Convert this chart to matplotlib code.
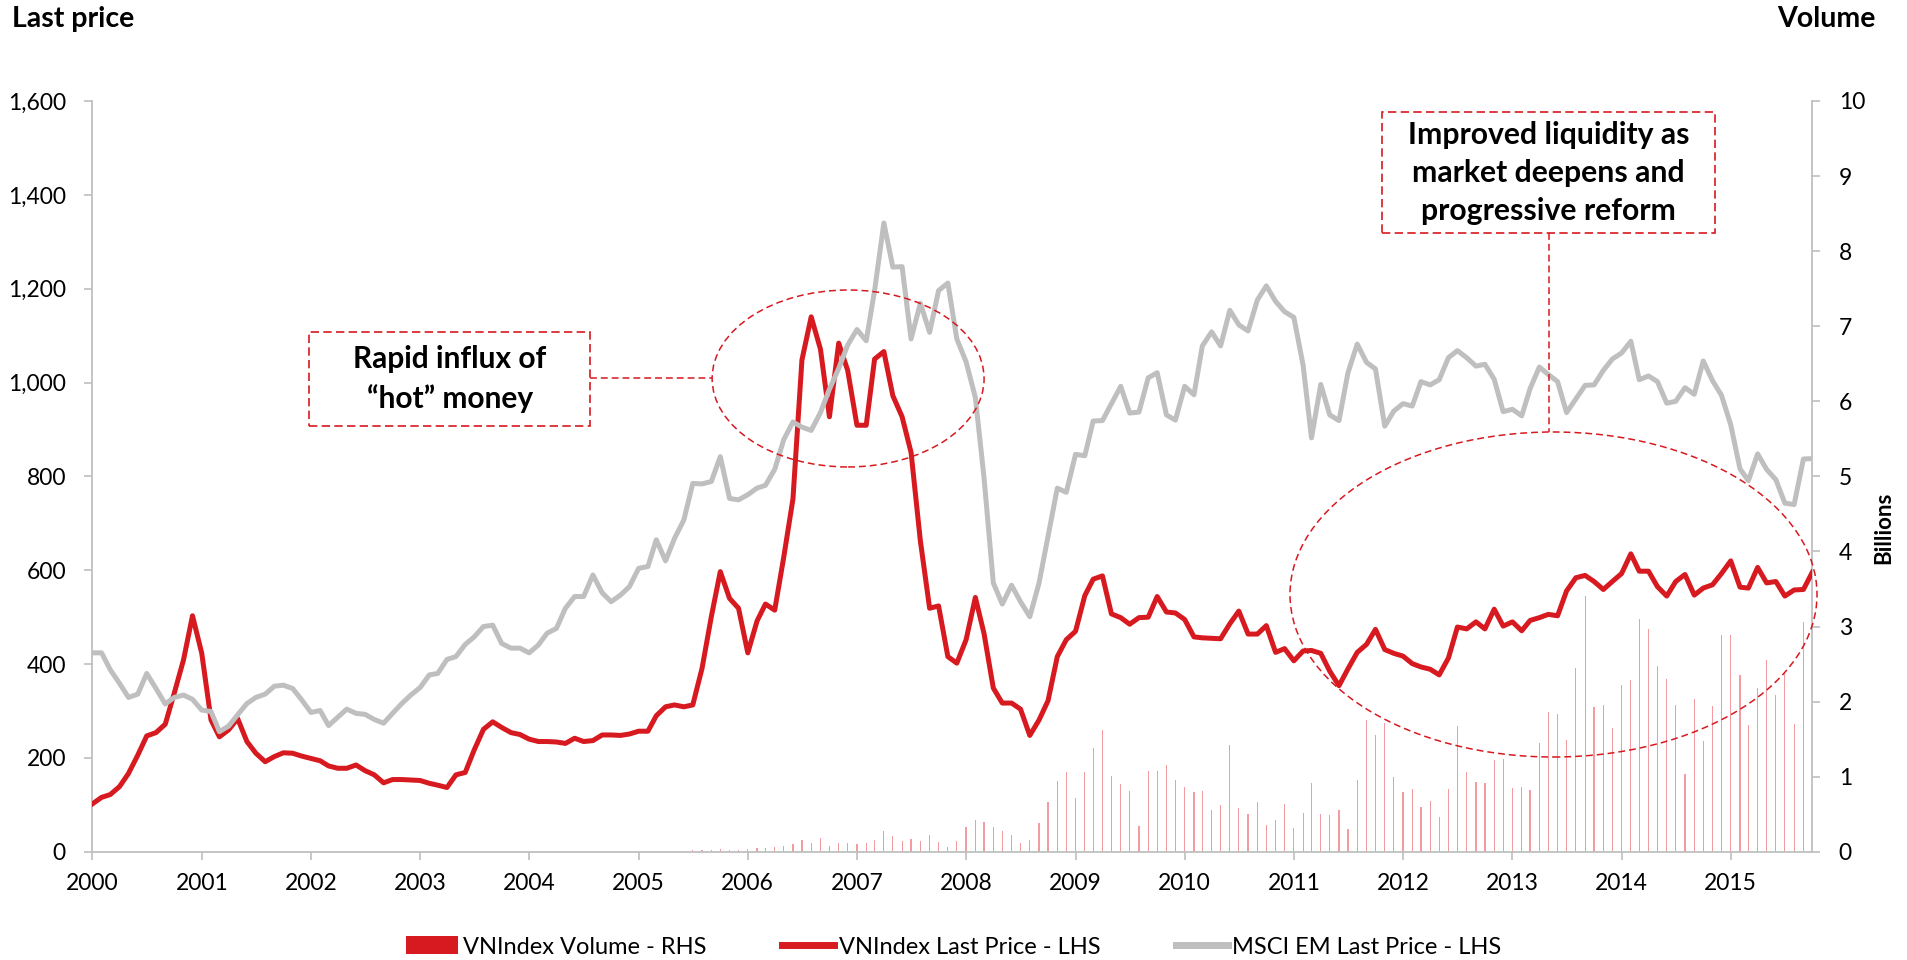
import numpy as np
import pandas as pd
import matplotlib
matplotlib.use("Agg")
import matplotlib.pyplot as plt
import matplotlib.dates as mdates
from matplotlib.patches import Ellipse, Rectangle, Patch
from matplotlib.lines import Line2D
from matplotlib.ticker import FuncFormatter

plt.rcParams['font.family'] = ['Lato', 'DejaVu Sans']

# ---------------- data (monthly, Jan 2000 - Oct 2015) ----------------
dates = pd.date_range('2000-01-01', periods=190, freq='MS')

vnindex_last = [
    102, 116, 122, 139, 167, 206, 247, 254, 272, 338, 409, 503,      # 2000
    423, 281, 245, 260, 284, 235, 210, 192, 203, 211, 210, 204,      # 2001
    199, 194, 183, 178, 178, 185, 173, 164, 147, 154, 154, 153,      # 2002
    152, 146, 142, 137, 164, 169, 217, 261, 277, 265, 254, 250,      # 2003
    240, 235, 235, 234, 231, 242, 235, 237, 249, 249, 248, 251,      # 2004
    257, 257, 290, 309, 313, 309, 313, 391, 501, 597, 540, 519,      # 2005
    424, 492, 528, 515, 627, 752, 1048, 1140, 1071, 927, 1084, 1026, # 2006
    909, 909, 1050, 1066, 972, 927, 851, 663, 519, 524, 416, 402,    # 2007
    452, 542, 465, 349, 317, 317, 304, 248, 281, 322, 416, 452,      # 2008
    470, 546, 581, 588, 507, 499, 485, 499, 500, 544, 511, 509,      # 2009
    495, 458, 456, 455, 454, 486, 513, 464, 464, 482, 425, 433,      # 2010
    407, 428, 429, 423, 385, 354, 390, 425, 442, 474, 431, 423,      # 2011
    417, 401, 394, 389, 377, 413, 479, 475, 490, 475, 517, 481,      # 2012
    490, 471, 493, 499, 506, 503, 556, 584, 589, 576, 559, 576,      # 2013
    593, 635, 598, 598, 565, 545, 576, 591, 547, 562, 569, 593,      # 2014
    620, 564, 562, 606, 573, 576, 545, 558, 559, 596,                # 2015
]

msci_em_last = [
    424, 424, 388, 359, 329, 336, 380, 348, 315, 329, 334, 325,      # 2000
    302, 299, 256, 268, 292, 316, 329, 336, 353, 355, 348, 324,      # 2001
    297, 301, 269, 287, 304, 295, 293, 282, 274, 295, 316, 334,      # 2002
    350, 377, 380, 410, 416, 442, 458, 480, 483, 444, 434, 434,      # 2003
    424, 441, 466, 476, 519, 544, 544, 590, 552, 533, 547, 565,      # 2004
    604, 608, 665, 620, 668, 707, 785, 784, 789, 842, 753, 750,      # 2005
    761, 775, 781, 815, 878, 916, 905, 898, 936, 986, 1030, 1080,    # 2006
    1113, 1089, 1196, 1340, 1246, 1247, 1093, 1169, 1107, 1196, 1212, 1093,  # 2007
    1044, 968, 797, 573, 528, 568, 533, 501, 573, 672, 775, 766,     # 2008
    847, 844, 918, 919, 955, 992, 935, 937, 1010, 1021, 931, 920,    # 2009
    992, 974, 1078, 1108, 1078, 1154, 1123, 1110, 1176, 1206, 1173, 1151,  # 2010
    1139, 1037, 882, 996, 931, 919, 1021, 1082, 1043, 1029, 907, 939,      # 2011
    955, 950, 1002, 995, 1006, 1053, 1068, 1053, 1035, 1039, 1007, 938,    # 2012
    943, 929, 987, 1033, 1017, 1002, 936, 965, 994, 995, 1026, 1050,       # 2013
    1063, 1088, 1006, 1014, 1002, 956, 960, 989, 975, 1046, 1004, 973,     # 2014
    910, 816, 791, 848, 815, 793, 743, 740, 837, 838,                      # 2015
]

nan = np.nan
vnindex_volume_bn = [nan] * 66 + [
    0.02, 0.03, 0.03, 0.04, 0.03, 0.03,                                    # Jul-Dec 2005
    0.04, 0.05, 0.05, 0.06, 0.08, 0.11, 0.16, 0.12, 0.19, 0.08, 0.12, 0.12,  # 2006
    0.11, 0.12, 0.16, 0.28, 0.21, 0.14, 0.17, 0.15, 0.22, 0.13, 0.06, 0.15,  # 2007
    0.33, 0.43, 0.40, 0.33, 0.28, 0.23, 0.12, 0.16, 0.38, 0.67, 0.94, 1.06,  # 2008
    0.72, 1.06, 1.38, 1.62, 1.01, 0.90, 0.81, 0.35, 1.08, 1.08, 1.15, 0.96,  # 2009
    0.86, 0.80, 0.81, 0.56, 0.62, 1.42, 0.59, 0.50, 0.67, 0.36, 0.43, 0.64,  # 2010
    0.32, 0.52, 0.91, 0.51, 0.49, 0.56, 0.31, 0.95, 1.75, 1.55, 1.72, 1.00,  # 2011
    0.80, 0.84, 0.60, 0.68, 0.47, 0.84, 1.68, 1.06, 0.93, 0.91, 1.22, 1.23,  # 2012
    0.85, 0.86, 0.82, 1.45, 1.86, 1.83, 1.49, 2.45, 3.41, 1.93, 1.95, 1.65,  # 2013
    2.22, 2.29, 3.10, 2.97, 2.48, 2.30, 1.96, 1.03, 2.03, 1.47, 1.94, 2.89,  # 2014
    2.89, 2.36, 1.69, 2.18, 2.56, 2.09, 2.38, 1.70, 3.06, 2.60,              # 2015
]

legend_labels = ['VNIndex Volume - RHS', 'VNIndex Last Price - LHS', 'MSCI EM Last Price - LHS']
left_ticks = list(range(0, 1601, 200))
right_ticks = list(range(0, 11))

# ---------------- styling ----------------
RED = '#D71920'
GREY = '#BFBFBF'
BAR = '#F29BA1'
AX_GREY = '#BFBFBF'

fig = plt.figure(figsize=(19.08, 9.6), dpi=100)
ax = fig.add_axes([0.04838, 0.1127, 0.9015, 0.7821])
ax2 = ax.twinx()
ax.set_zorder(ax2.get_zorder() + 1)
ax.patch.set_visible(False)

# volume bars (right axis)
ax2.bar(dates, vnindex_volume_bn, width=4, color=BAR, linewidth=0, align='center')

# price lines (left axis)
ax.plot(dates, vnindex_last, color=RED, lw=3.6, solid_joinstyle='round', zorder=3)
ax.plot(dates, msci_em_last, color=GREY, lw=3.6, solid_joinstyle='round', zorder=4)

ax.set_xlim(dates[0], dates[-1])
ax.set_ylim(0, 1600)
ax2.set_ylim(0, 10)
ax.set_yticks(left_ticks)
ax2.set_yticks(right_ticks)
ax.yaxis.set_major_formatter(FuncFormatter(lambda v, p: f'{int(v):,}'))
ax.xaxis.set_major_locator(mdates.YearLocator())
ax.xaxis.set_major_formatter(mdates.DateFormatter('%Y'))

for a in (ax, ax2):
    a.spines['top'].set_visible(False)
    for s in a.spines.values():
        s.set_color(AX_GREY)
        s.set_linewidth(1.3)
ax.spines['right'].set_visible(False)
ax2.spines['left'].set_visible(False)
ax2.spines['bottom'].set_visible(False)

ax.tick_params(axis='y', length=6, width=1.2, color=AX_GREY, pad=13, labelsize=16.5)
ax.tick_params(axis='x', length=6, width=1.2, color=AX_GREY, pad=9, labelsize=16.5)
ax2.tick_params(axis='y', length=6, width=1.2, color=AX_GREY, pad=13, labelsize=16.5)

# axis titles
fig.text(12 / 1908, 1 - 6 / 960, 'Last price', ha='left', va='top', fontsize=20.5, fontweight='bold')
fig.text(1876 / 1908, 1 - 6 / 960, 'Volume', ha='right', va='top', fontsize=20.5, fontweight='bold')
fig.text(1884 / 1908, 1 - 528 / 960, 'Billions', ha='center', va='center', rotation=90,
         fontsize=16, fontweight='bold')

# ---------------- annotations ----------------
dash_box = (0, (5, 2.6))
dash_ell = (0, (4.5, 2.6))
T = ax.transAxes

# left box + connector + ellipse
ax.add_patch(Rectangle((0.1260, 0.5671), 0.1634, 0.1252, transform=T, fill=False,
                       edgecolor=RED, lw=1.2, linestyle=dash_box, clip_on=False, zorder=6))
ax.plot([0.2894, 0.3603], [0.6304, 0.6304], transform=T, color=RED, lw=1.1,
        linestyle=dash_ell, clip_on=False, zorder=6)
ax.add_patch(Ellipse((0.4394, 0.6304), 0.1581, 0.2357, transform=T, fill=False,
                     edgecolor=RED, lw=1.1, linestyle=dash_ell, clip_on=False, zorder=6))
ax.text(0.2077, 0.6297, 'Rapid influx of\n\u201chot\u201d money', transform=T, ha='center',
        va='center', fontsize=21.5, fontweight='bold', linespacing=1.5, zorder=7)

# right box + connector + ellipse
ax.add_patch(Rectangle((0.7497, 0.8242), 0.1936, 0.1615, transform=T, fill=False,
                       edgecolor=RED, lw=1.2, linestyle=dash_box, clip_on=False, zorder=6))
ax.plot([0.8468, 0.8468], [0.8242, 0.5591], transform=T, color=RED, lw=1.1,
        linestyle=dash_ell, clip_on=False, zorder=6)
ax.add_patch(Ellipse((0.8495, 0.3427), 0.3064, 0.4329, transform=T, fill=False,
                     edgecolor=RED, lw=1.1, linestyle=dash_ell, clip_on=False, zorder=6))
ax.text(0.8465, 0.9040, 'Improved liquidity as\nmarket deepens and\nprogressive reform',
        transform=T, ha='center', va='center', fontsize=21.7, fontweight='bold',
        linespacing=1.45, zorder=7)

# ---------------- legend ----------------
handles = [Patch(facecolor=RED, edgecolor='none'),
           Line2D([0], [0], color=RED, lw=5),
           Line2D([0], [0], color=GREY, lw=5)]
fig.legend(handles, legend_labels, loc='center', bbox_to_anchor=(0.5, 0.0135), ncol=3,
           frameon=False, fontsize=17, handlelength=2.2, handletextpad=0.2,
           columnspacing=3.2, handleheight=0.8)

fig.savefig('out.png', dpi=100)
